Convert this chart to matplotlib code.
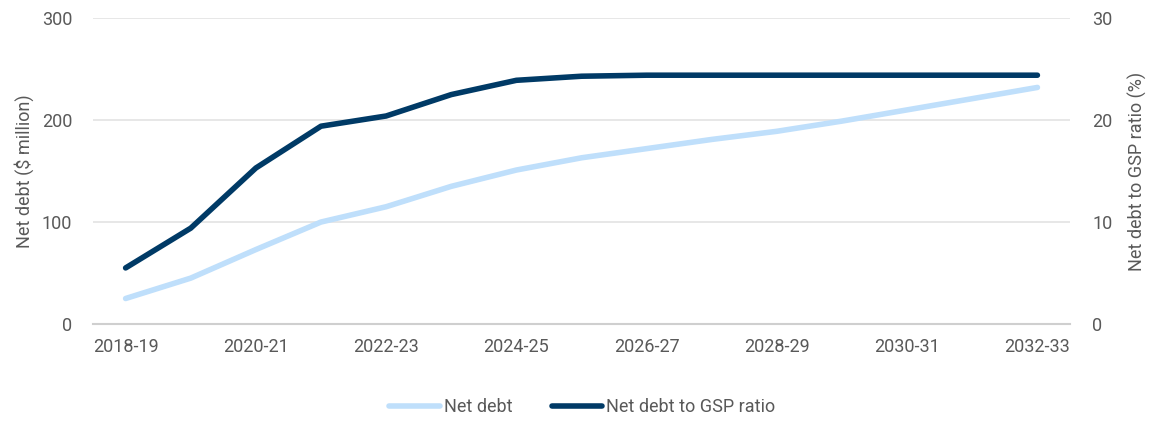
import numpy as np
import matplotlib.pyplot as plt

plt.rcParams['font.family'] = ['Roboto', 'DejaVu Sans']

# data
years = ['2018-19', '2019-20', '2020-21', '2021-22', '2022-23', '2023-24', '2024-25',
         '2025-26', '2026-27', '2027-28', '2028-29', '2029-30', '2030-31', '2031-32', '2032-33']
net_debt = [25, 45, 73, 100, 115, 135, 151, 163, 172, 181, 189, 199, 210, 221, 232]
gsp_ratio = [5.5, 9.4, 15.3, 19.4, 20.4, 22.5, 23.9, 24.3, 24.4, 24.4, 24.4, 24.4, 24.4, 24.4, 24.4]

light = '#BFDFFB'
dark = '#003A66'
grey_txt = '#595959'

fig = plt.figure(figsize=(11.53, 4.21), dpi=100)
ax = fig.add_axes([0.0807, 0.2304, 0.8473, 0.7266])
ax2 = ax.twinx()

x = np.arange(len(years))
l1, = ax.plot(x, net_debt, color=light, lw=4, solid_capstyle='round', label='Net debt')
l2, = ax2.plot(x, gsp_ratio, color=dark, lw=4, solid_capstyle='round', label='Net debt to GSP ratio')

ax.set_xlim(-0.5, len(years) - 0.5)
ax.set_ylim(0, 300)
ax2.set_ylim(0, 30)
ax.set_yticks([0, 100, 200, 300])
ax2.set_yticks([0, 10, 20, 30])
ax.set_xticks(x[::2])
ax.set_xticklabels(years[::2])

ax.grid(axis='y', color='#E3E3E3', lw=1.2)
ax.set_axisbelow(True)
for a in (ax, ax2):
    for s in a.spines.values():
        s.set_visible(False)
    a.tick_params(length=0, labelsize=13, labelcolor=grey_txt)
ax.spines['bottom'].set_visible(True)
ax.spines['bottom'].set_color('#CFCFCF')
ax.spines['bottom'].set_linewidth(1.5)
ax.tick_params(axis='x', pad=10)
ax.tick_params(axis='y', pad=15)
ax2.tick_params(axis='y', pad=16)

ax.set_ylabel('Net debt ($ million)', fontsize=13, color=grey_txt, labelpad=6)
ax2.set_ylabel('Net debt to GSP ratio (%)', fontsize=13, color=grey_txt, labelpad=11)

fig.legend(handles=[l1, l2], loc='center', bbox_to_anchor=(0.505, 0.033), ncol=2,
           frameon=False, fontsize=13, labelcolor=grey_txt, handlelength=2.8,
           handletextpad=0.2, columnspacing=2.2)

fig.savefig('out.png', dpi=100)
